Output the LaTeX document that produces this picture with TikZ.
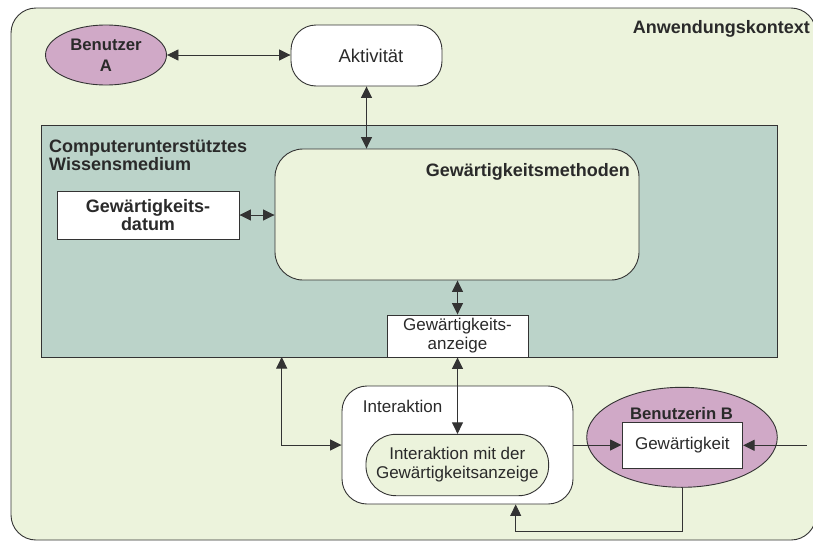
\documentclass[tikz,border=0pt]{standalone}
\usepackage{fontspec}
\setmainfont{Liberation Sans}
\usetikzlibrary{arrows.meta,shapes.geometric}
\definecolor{ctxfill}{HTML}{ECF3DC}
\definecolor{medfill}{HTML}{BBD3C9}
\definecolor{userfill}{HTML}{D0A9C7}
\definecolor{linec}{HTML}{333333}
\definecolor{txt}{HTML}{2A2A2A}
\begin{document}
\begin{tikzpicture}[x=1pt,y=-1pt,
  tip/.tip={Triangle[length=11.5pt,width=11pt]},
  conn/.style={draw=linec, line width=0.9pt, tip-tip},
  onearrow/.style={draw=linec, line width=0.9pt, -tip},
  box/.style={rectangle, draw=linec, line width=0.9pt, inner sep=0pt},
  roundbox/.style={box, rounded corners=#1},
  userell/.style={ellipse, draw=linec, line width=0.9pt, fill=userfill, inner sep=0pt},
  boldtxt/.style={font=\fontsize{18}{18.5}\selectfont\bfseries, text=txt, inner sep=0pt, align=center},
  usertxt/.style={font=\fontsize{16.7}{20.5}\selectfont\bfseries, text=txt, inner sep=0pt, align=center},
  regtxt/.style={font=\fontsize{17}{19}\selectfont, text=txt, inner sep=0pt, align=center},
]
\useasboundingbox (0,0) rectangle (813,541);
\clip (0,0) rectangle (813,541);

% application context frame
\node[roundbox=25pt, fill=ctxfill, minimum width=805pt, minimum height=532pt] (ctx) at (413.5,274) {};
\node[boldtxt, anchor=north east] (ctxlbl) at (810,20.7) {Anwendungskontext};

% user A and the activity
\node[userell, minimum width=121pt, minimum height=60pt] (benA) at (106,55) {};
\node[usertxt] (benAlbl) at (106,55.3) {Benutzer\\A};
\node[roundbox=25pt, fill=white, minimum width=151pt, minimum height=61pt] (akt) at (366.5,55.5) {};
\node[regtxt, font=\fontsize{18.5}{19}\selectfont] (aktlbl) at (371,56) {Aktivität};

% computer supported knowledge medium
\node[box, fill=medfill, minimum width=736pt, minimum height=232pt] (med) at (409,241) {};
\node[boldtxt, anchor=north west, align=left] (medlbl) at (49,139.5) {Computerunterstütztes\\Wissensmedium};

\node[roundbox=28pt, fill=ctxfill, minimum width=364pt, minimum height=131pt] (meth) at (457,214.5) {};
\node[boldtxt, anchor=north east] (methlbl) at (630,163) {Gewärtigkeitsmethoden};

\node[box, fill=white, minimum width=182pt, minimum height=48pt, boldtxt, font=\fontsize{18}{18.5}\selectfont\bfseries] (dat) at (148,215) {Gewärtigkeits-\\datum};

\node[box, fill=white, minimum width=141pt, minimum height=42pt, regtxt] (anz) at (457.5,336) {Gewärtigkeits-\\anzeige};

% interaction
\node[roundbox=25pt, fill=white, minimum width=231pt, minimum height=118pt] (inter) at (457.5,445) {};
\node[regtxt, anchor=north west] (interlbl) at (362.7,399.5) {Interaktion};
\node[roundbox=30pt, fill=ctxfill, minimum width=182.7pt, minimum height=61.4pt, regtxt] (ia) at (457.3,465) {Interaktion mit der\\Gewärtigkeitsanzeige};

% user B
\node[userell, minimum width=190.6pt, minimum height=100pt] (benB) at (682,437.3) {};
\node[usertxt] (benBlbl) at (681.5,413.5) {Benutzerin B};
\node[box, fill=white, minimum width=120.7pt, minimum height=46pt, regtxt] (gew) at (682.3,445.3) {Gewärtigkeit};

% connectors
\coordinate (mtap) at (281.7,357);
\coordinate (rin) at (806.7,445.3);
\coordinate (fbturn) at (515.7,531.7);

\draw[conn] (benA.east) -- (benA.east -| akt.west);
\draw[conn] (akt.south) -- (akt.south |- meth.north);
\draw[conn] (dat.east) -- (dat.east -| meth.west);
\draw[conn] (anz.north |- meth.south) -- (anz.north);
\draw[conn] (anz.south) -- (anz.south |- ia.north);
\draw[conn] (mtap) |- (inter.west);
\draw[onearrow] (inter.east) -- (inter.east -| gew.west);
\draw[onearrow] (rin) -- (rin -| gew.east);
\draw[onearrow] (benB.south) |- (fbturn) -- (fbturn |- inter.south);
\end{tikzpicture}
\end{document}
